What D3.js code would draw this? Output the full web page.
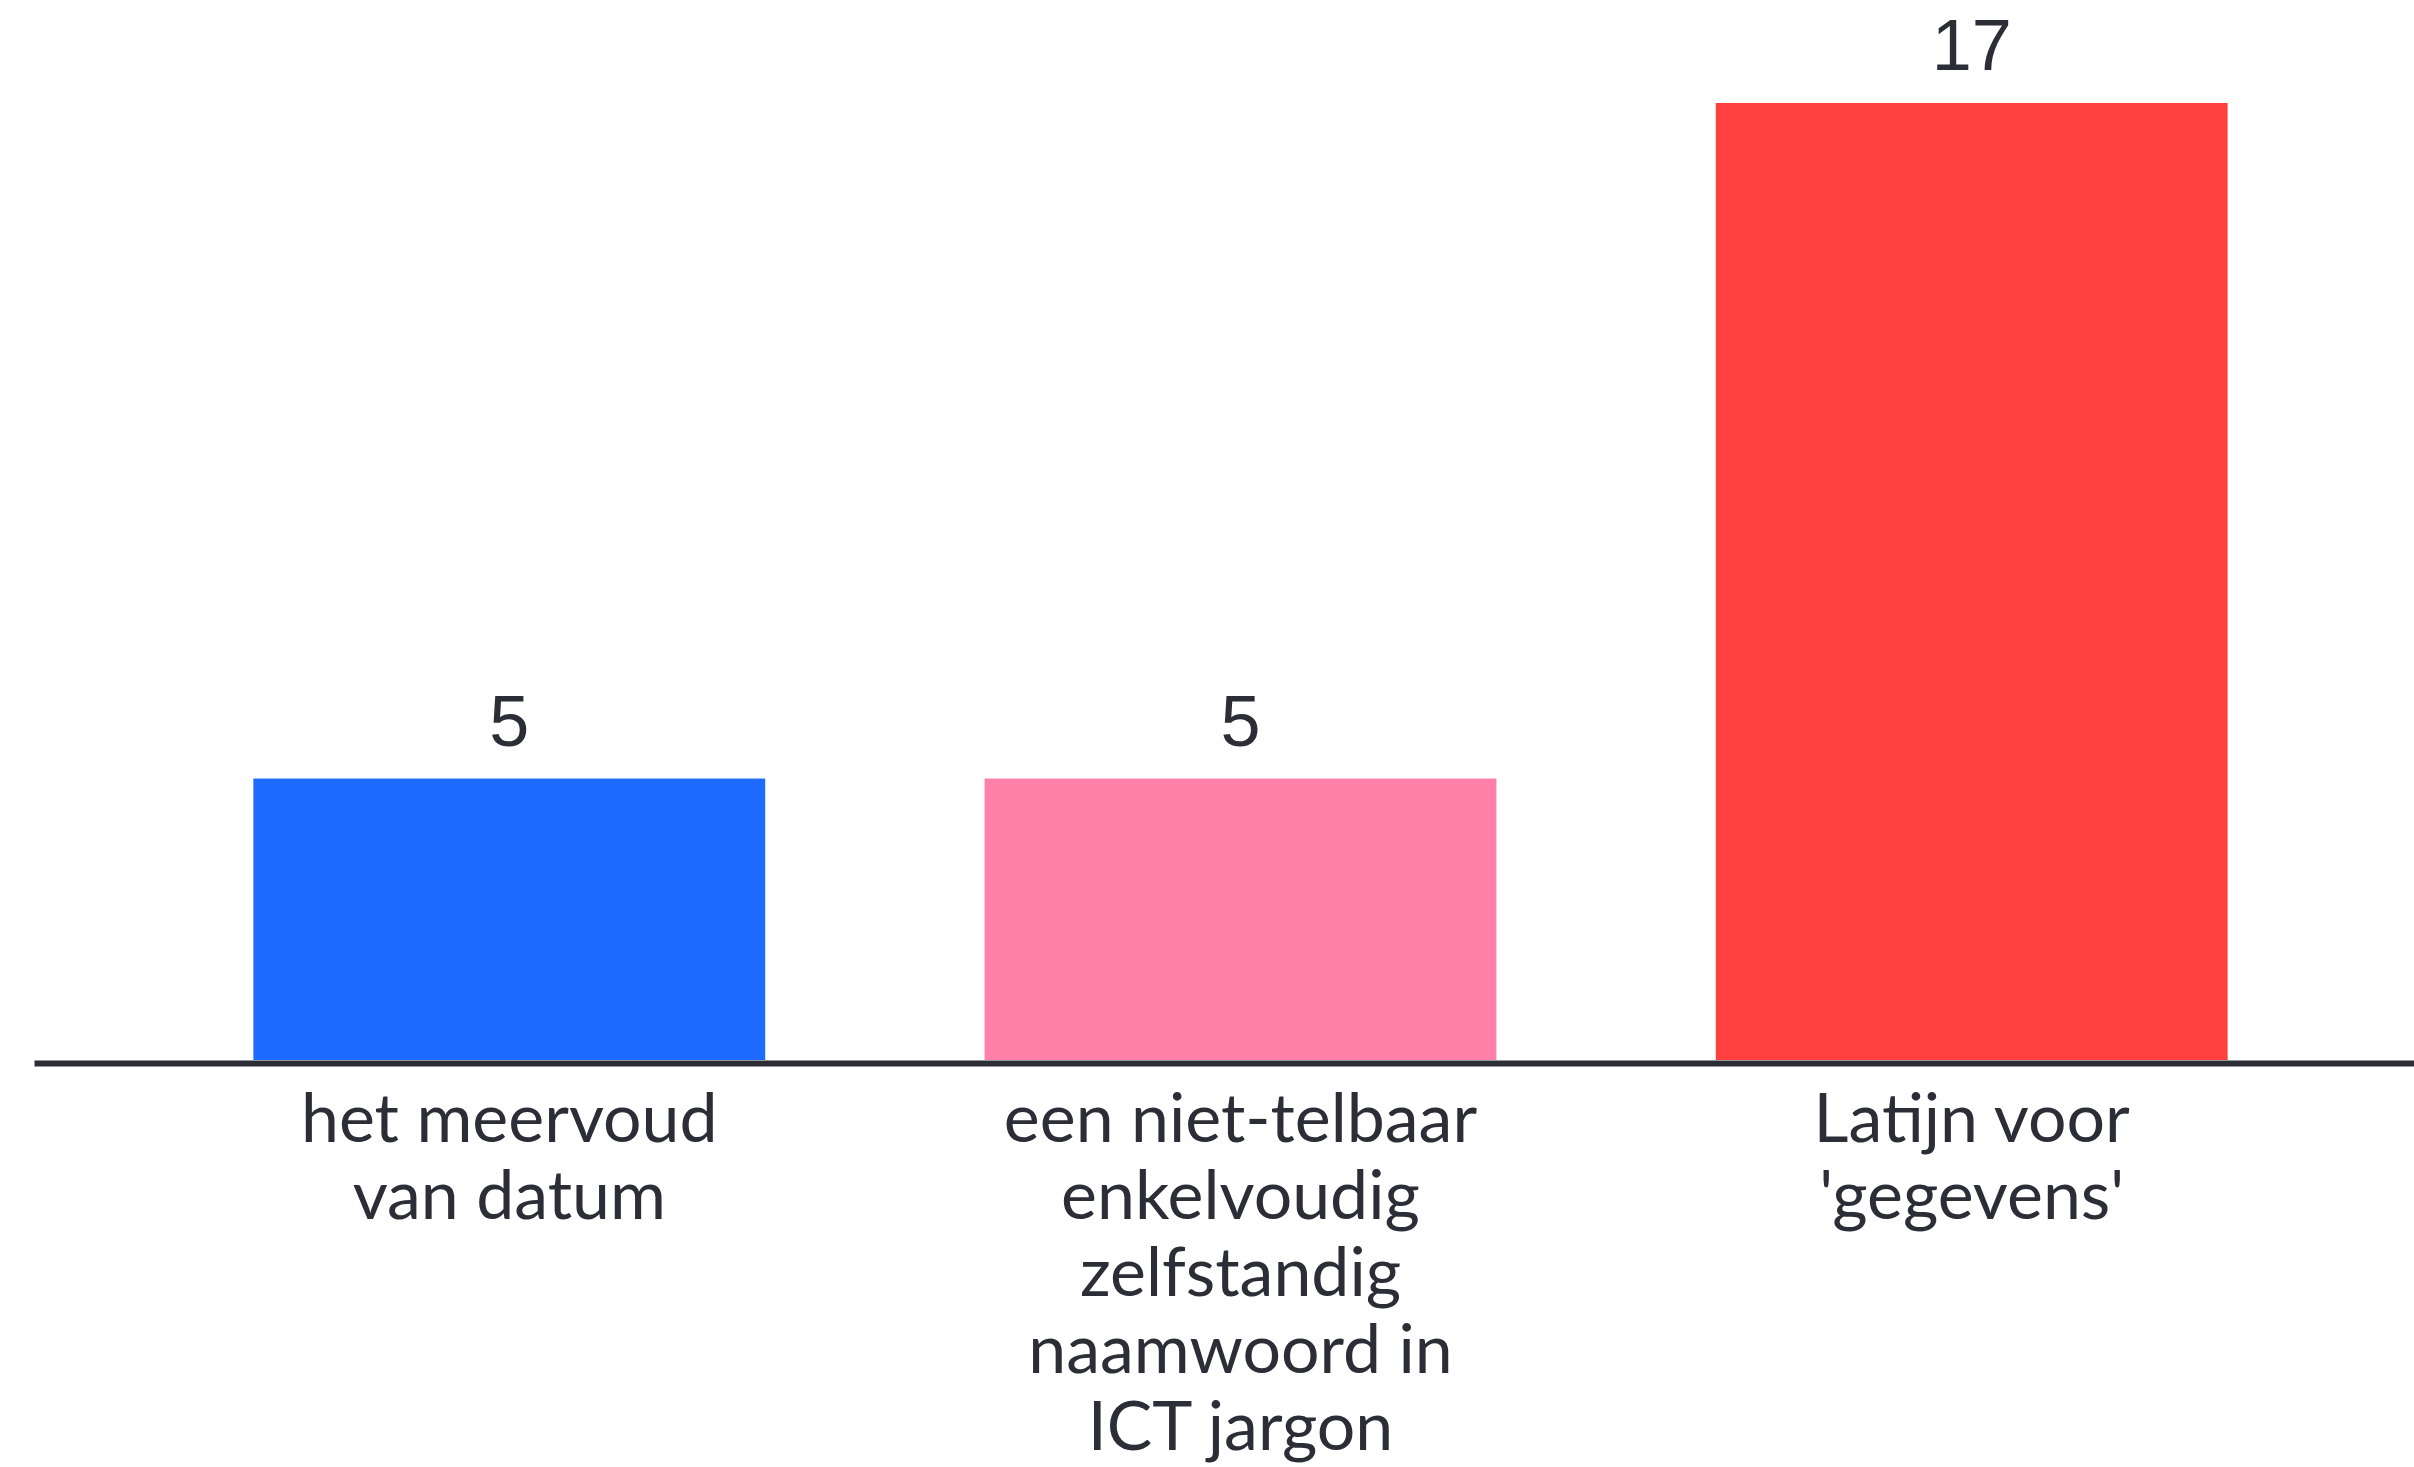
<!DOCTYPE html>
<html>
<head>
<meta charset="utf-8">
<script src="https://cdn.jsdelivr.net/npm/d3@7"></script>
<style>
  html, body { margin: 0; padding: 0; background: #ffffff; }
  svg { display: block; }
</style>
</head>
<body>
<svg id="chart" width="2414" height="1467"></svg>
<script>
const categories = ["het meervoud van datum", "een niet-telbaar enkelvoudig zelfstandig naamwoord in ICT jargon", "Latijn voor 'gegevens'"];
const categoryLines = [
  ["het meervoud", "van datum"],
  ["een niet-telbaar", "enkelvoudig", "zelfstandig", "naamwoord in", "ICT jargon"],
  ["Latijn voor", "'gegevens'"]
];
const values = [5, 5, 17];
const colors = ["#1e6bff", "#ff80a8", "#ff403e"];

const svg = d3.select("#chart");
const baseline = 1060;

const x = d3.scaleBand().domain(categories).range([34, 2447]).paddingInner(0.3).paddingOuter(0.3);
const y = d3.scaleLinear().domain([0, 17]).range([baseline, 103]);

svg.append("g").selectAll("rect").data(values).join("rect")
  .attr("x", (d, i) => x(categories[i]))
  .attr("y", d => y(d))
  .attr("width", x.bandwidth())
  .attr("height", d => y(0) - y(d))
  .attr("fill", (d, i) => colors[i]);

// axis
const axis = svg.append("g").attr("transform", `translate(0,${baseline})`)
  .call(d3.axisBottom(x).tickSize(0).tickFormat(""));
axis.select(".domain").attr("stroke", "#2b2e36").attr("stroke-width", 6).attr("transform", "translate(0,3)");

// value labels
svg.append("g").selectAll("text").data(values).join("text")
  .attr("x", (d, i) => x(categories[i]) + x.bandwidth() / 2)
  .attr("y", d => y(d) - 33)
  .attr("text-anchor", "middle")
  .attr("font-family", "Liberation Sans, Arial, sans-serif")
  .attr("font-size", 72)
  .attr("fill", "#2b2e36")
  .text(d => d);

// category labels
const lab = svg.append("g").selectAll("text").data(categories).join("text")
  .attr("text-anchor", "middle")
  .attr("font-family", "Lato, sans-serif")
  .attr("font-size", 68)
  .attr("fill", "#2b2e36")
  .attr("transform", d => `translate(${x(d) + x.bandwidth() / 2},1142)`);
lab.selectAll("tspan").data((d, i) => categoryLines[i]).join("tspan")
  .attr("x", 0)
  .attr("dy", (d, j) => j === 0 ? 0 : 77)
  .text(d => d);
</script>
</body>
</html>
